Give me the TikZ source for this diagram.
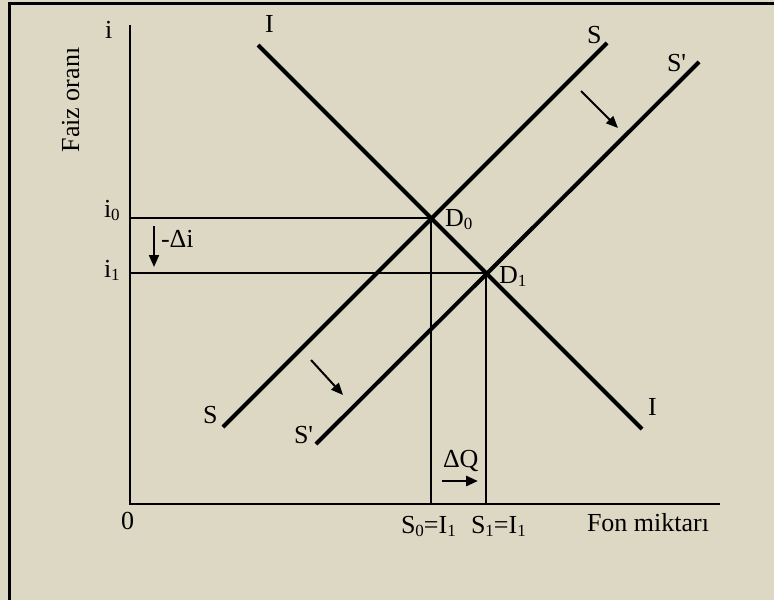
\documentclass[tikz,border=0pt]{standalone}
\usepackage{fontspec}
\setmainfont{Liberation Serif}
\newfontfamily\nomapfont{Liberation Serif}
\usetikzlibrary{arrows.meta}
\definecolor{bg}{RGB}{221,216,196}
\newcommand\subs[1]{\raisebox{-0.12em}{\fontsize{17}{17}\selectfont #1}}
\newcommand\prm{{\nomapfont\char"0027\relax}}
\begin{document}
\begin{tikzpicture}[x=1pt,y=-1pt,
  font=\fontsize{26}{30}\selectfont,
  lbl/.style={inner sep=0pt, outer sep=0pt, anchor=base west},
  curve/.style={line width=4pt},
  guide/.style={line width=1.8pt},
  axisline/.style={line width=1.8pt},
  shiftarrow/.style={line width=2pt, -{Triangle[length=12pt,width=10pt]}},
  deltaarrow/.style={line width=2.8pt, -{Triangle[length=12pt,width=10pt]}}]
\fill[bg] (0,0) rectangle (774,600);
\useasboundingbox (0,0) rectangle (774,600);
% frame
\coordinate (fbl) at (9,600);
\coordinate (ftl) at (9,3);
\coordinate (ftr) at (774,3);
\draw[line width=3pt] (fbl) -- (ftl) -- (ftr);
% axes
\coordinate (O) at (130,504);
\coordinate (ytop) at (130,25);
\coordinate (xend) at (720,504);
\draw[axisline] (ytop) -- (O) -- (xend);
% points
\coordinate (D0) at (431,218);
\coordinate (D1) at (486,273);
\coordinate (i0y) at (130,218);
\coordinate (i1y) at (130,273);
\coordinate (q0) at (431,504);
\coordinate (q1) at (486,504);
\draw[guide] (i0y) -- (D0) -- (q0);
\draw[guide] (i1y) -- (D1) -- (q1);
% curves
\coordinate (Ia) at (258,45);
\coordinate (Ib) at (642,429);
\coordinate (Sa) at (223,427);
\coordinate (Sb) at (607,43);
\coordinate (Spa) at (316,444);
\coordinate (Spb) at (699,62);
\draw[curve] (Ia) -- (Ib);
\draw[curve] (Sa) -- (Sb);
\draw[curve] (Spa) -- (Spb);
% shift arrows
\coordinate (ta1) at (581,91);
\coordinate (ta2) at (618,128);
\coordinate (ba1) at (311,360);
\coordinate (ba2) at (343,395);
\draw[shiftarrow] (ta1) -- (ta2);
\draw[shiftarrow] (ba1) -- (ba2);
% delta arrows
\coordinate (di1) at (154,226);
\coordinate (di2) at (154,267);
\draw[shiftarrow] (di1) -- (di2);
\coordinate (dq1) at (442,481);
\coordinate (dq2) at (478,481);
\draw[deltaarrow] (dq1) -- (dq2);
% labels
\node[lbl] (li) at (105,38) {i};
\node[lbl, anchor=base, rotate=90] (lfaiz) at (79,100) {Faiz oranı};
\node[lbl] (lItop) at (265,32) {I};
\node[lbl] (lIbot) at (648,415) {I};
\node[lbl] (lStop) at (587,43) {S};
\node[lbl] (lSptop) at (667,71) {S\prm};
\node[lbl] (lSbot) at (203,423) {S};
\node[lbl] (lSpbot) at (294,443) {S\prm};
\node[lbl] (li0) at (104,217) {i\subs{0}};
\node[lbl] (li1) at (104,277) {i\subs{1}};
\node[lbl] (ldi) at (161,247) {-Δi};
\node[lbl] (lD0) at (445,226) {D\subs{0}};
\node[lbl] (lD1) at (499,283) {D\subs{1}};
\node[lbl] (ldq) at (443,467) {ΔQ};
\node[lbl] (lzero) at (121,529) {0};
\node[lbl] (lS0) at (401,533) {S\subs{0}=I\subs{1}};
\node[lbl] (lS1) at (471,533) {S\subs{1}=I\subs{1}};
\node[lbl] (lfon) at (587,531) {Fon miktarı};
\end{tikzpicture}
\end{document}
